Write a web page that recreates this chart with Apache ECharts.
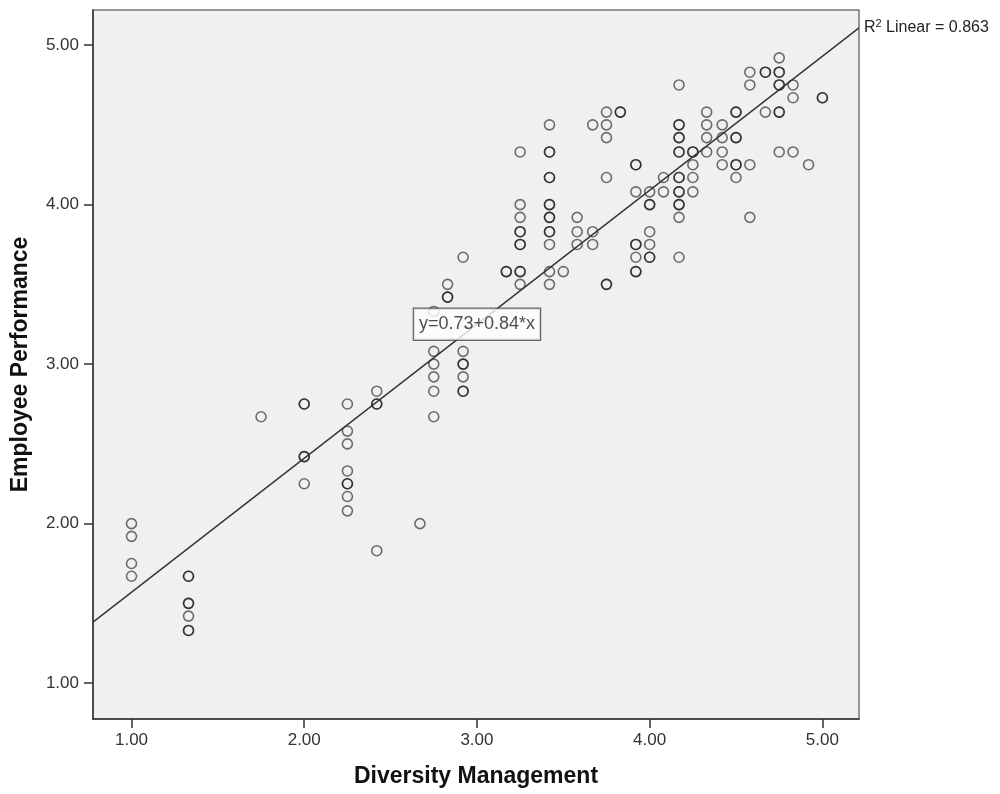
<!DOCTYPE html>
<html>
<head>
<meta charset="utf-8">
<title>Diversity Management vs Employee Performance</title>
<script src="https://cdn.jsdelivr.net/npm/echarts@6/dist/echarts.min.js"></script>
<style>
  html, body { margin: 0; padding: 0; background: #fff; }
  #chart { width: 1000px; height: 794px; }
</style>
</head>
<body>
<div id="chart"></div>
<script>
// x = Diversity Management, y = Employee Performance (one entry per respondent)
const diversity = [
  1.00, 1.00, 1.00, 1.00,
  1.33, 1.33, 1.33, 1.33, 1.33, 1.33, 1.33,
  1.75,
  2.00, 2.00, 2.00, 2.00, 2.00,
  2.25, 2.25, 2.25, 2.25, 2.25, 2.25, 2.25, 2.25,
  2.42, 2.42, 2.42, 2.42,
  2.67,
  2.75, 2.75, 2.75, 2.75, 2.75, 2.75,
  2.83, 2.83, 2.83,
  2.92, 2.92, 2.92, 2.92, 2.92, 2.92, 2.92,
  3.17, 3.17,
  3.25, 3.25, 3.25, 3.25, 3.25, 3.25, 3.25, 3.25, 3.25, 3.25,
  3.42, 3.42, 3.42, 3.42, 3.42, 3.42, 3.42, 3.42, 3.42, 3.42, 3.42, 3.42, 3.42, 3.42,
  3.50,
  3.58, 3.58, 3.58,
  3.67, 3.67, 3.67,
  3.75, 3.75, 3.75, 3.75, 3.75, 3.75,
  3.83, 3.83,
  3.92, 3.92, 3.92, 3.92, 3.92, 3.92, 3.92, 3.92,
  4.00, 4.00, 4.00, 4.00, 4.00, 4.00, 4.00,
  4.08, 4.08,
  4.17, 4.17, 4.17, 4.17, 4.17, 4.17, 4.17, 4.17, 4.17, 4.17, 4.17, 4.17, 4.17, 4.17, 4.17,
  4.25, 4.25, 4.25, 4.25, 4.25,
  4.33, 4.33, 4.33, 4.33,
  4.42, 4.42, 4.42, 4.42,
  4.50, 4.50, 4.50, 4.50, 4.50, 4.50, 4.50,
  4.58, 4.58, 4.58, 4.58,
  4.67, 4.67, 4.67,
  4.75, 4.75, 4.75, 4.75, 4.75, 4.75, 4.75, 4.75,
  4.83, 4.83, 4.83,
  4.92,
  5.00, 5.00
];
const performance = [
  2.00, 1.92, 1.75, 1.67,
  1.67, 1.67, 1.50, 1.50, 1.42, 1.33, 1.33,
  2.67,
  2.75, 2.75, 2.42, 2.42, 2.25,
  2.75, 2.58, 2.50, 2.33, 2.25, 2.25, 2.17, 2.08,
  2.83, 2.75, 2.75, 1.83,
  2.00,
  3.33, 3.08, 3.00, 2.92, 2.83, 2.67,
  3.50, 3.42, 3.42,
  3.67, 3.08, 3.00, 3.00, 2.92, 2.83, 2.83,
  3.58, 3.58,
  4.33, 4.00, 3.92, 3.83, 3.83, 3.75, 3.75, 3.58, 3.58, 3.50,
  4.50, 4.33, 4.33, 4.17, 4.17, 4.00, 4.00, 3.92, 3.92, 3.83, 3.83, 3.75, 3.58, 3.50,
  3.58,
  3.92, 3.83, 3.75,
  4.50, 3.83, 3.75,
  4.58, 4.50, 4.42, 4.17, 3.50, 3.50,
  4.58, 4.58,
  4.25, 4.25, 4.08, 3.75, 3.75, 3.67, 3.58, 3.58,
  4.08, 4.00, 4.00, 3.83, 3.75, 3.67, 3.67,
  4.17, 4.08,
  4.75, 4.50, 4.50, 4.42, 4.42, 4.33, 4.33, 4.17, 4.17, 4.08, 4.08, 4.00, 4.00, 3.92, 3.67,
  4.33, 4.33, 4.25, 4.17, 4.08,
  4.58, 4.50, 4.42, 4.33,
  4.50, 4.42, 4.33, 4.25,
  4.58, 4.58, 4.42, 4.42, 4.25, 4.25, 4.17,
  4.83, 4.75, 4.25, 3.92,
  4.83, 4.83, 4.58,
  4.92, 4.83, 4.83, 4.75, 4.75, 4.58, 4.58, 4.33,
  4.75, 4.67, 4.33,
  4.25,
  4.67, 4.67
];
const tickValues = [1, 2, 3, 4, 5];
const fitIntercept = 0.73;
const fitSlope = 0.84;
const rSquared = 0.863;
const labelAtX = 3.0;

const xMin = 0.777, xMax = 5.212;
const yMin = 0.775, yMax = 5.22;
const fit = x => fitIntercept + fitSlope * x;

const points = diversity.map((x, i) => [x, performance[i]]);
const font = "'Liberation Sans', Arial, sans-serif";

const chart = echarts.init(document.getElementById('chart'));
chart.setOption({
  animation: false,
  backgroundColor: '#ffffff',
  title: {
    left: 859,
    top: 13,
    text: '{n|R}{s|2}{n| Linear = ' + rSquared.toFixed(3) + '}',
    textStyle: {
      fontWeight: 'normal',
      rich: {
        n: { fontFamily: font, fontSize: 16, fontWeight: 'normal', color: '#222', lineHeight: 20 },
        s: { fontFamily: font, fontSize: 11, fontWeight: 'normal', color: '#222', lineHeight: 20, verticalAlign: 'top', padding: [0, 0, 8, 0] }
      }
    }
  },
  grid: {
    left: 93, right: 141, top: 10, bottom: 75,
    show: true,
    backgroundColor: '#f0f0f0',
    borderColor: '#777',
    borderWidth: 1.5
  },
  xAxis: {
    type: 'value',
    min: xMin, max: xMax,
    name: 'Diversity Management',
    nameLocation: 'middle',
    nameGap: 46,
    nameTextStyle: { fontFamily: font, fontSize: 23, fontWeight: 'bold', color: '#111' },
    axisLine: { show: true, lineStyle: { color: '#333', width: 1.5 } },
    axisTick: { show: true, length: 9, customValues: tickValues, lineStyle: { color: '#333', width: 1.5 } },
    axisLabel: {
      customValues: tickValues,
      margin: 13,
      fontFamily: font, fontSize: 17, color: '#333',
      formatter: v => v.toFixed(2)
    },
    splitLine: { show: false }
  },
  yAxis: {
    type: 'value',
    min: yMin, max: yMax,
    name: 'Employee Performance',
    nameLocation: 'middle',
    nameGap: 61,
    nameTextStyle: { fontFamily: font, fontSize: 23, fontWeight: 'bold', color: '#111' },
    axisLine: { show: true, lineStyle: { color: '#333', width: 1.5 } },
    axisTick: { show: true, length: 9, customValues: tickValues, lineStyle: { color: '#333', width: 1.5 } },
    axisLabel: {
      customValues: tickValues,
      margin: 14,
      fontFamily: font, fontSize: 17, color: '#333',
      formatter: v => v.toFixed(2)
    },
    splitLine: { show: false }
  },
  series: [
    {
      type: 'scatter',
      data: points,
      symbol: 'circle',
      symbolSize: 10,
      itemStyle: { color: 'rgba(0,0,0,0)', borderColor: 'rgba(10,10,10,0.72)', borderWidth: 1.6 },
      z: 2
    },
    {
      type: 'line',
      data: [[xMin, fit(xMin)], [xMax, fit(xMax)]],
      symbol: 'none',
      lineStyle: { color: '#333', width: 1.4 },
      z: 3
    },
    {
      type: 'scatter',
      data: [[labelAtX, fit(labelAtX)]],
      symbolSize: 0,
      z: 5,
      label: {
        show: true,
        position: 'inside',
        formatter: 'y=' + fitIntercept.toFixed(2) + '+' + fitSlope.toFixed(2) + '*x',
        fontFamily: font,
        fontSize: 18,
        color: '#222',
        backgroundColor: '#ffffff',
        borderColor: '#444',
        borderWidth: 1.2,
        padding: [7, 5, 6, 5]
      }
    }
  ]
});
</script>
</body>
</html>
